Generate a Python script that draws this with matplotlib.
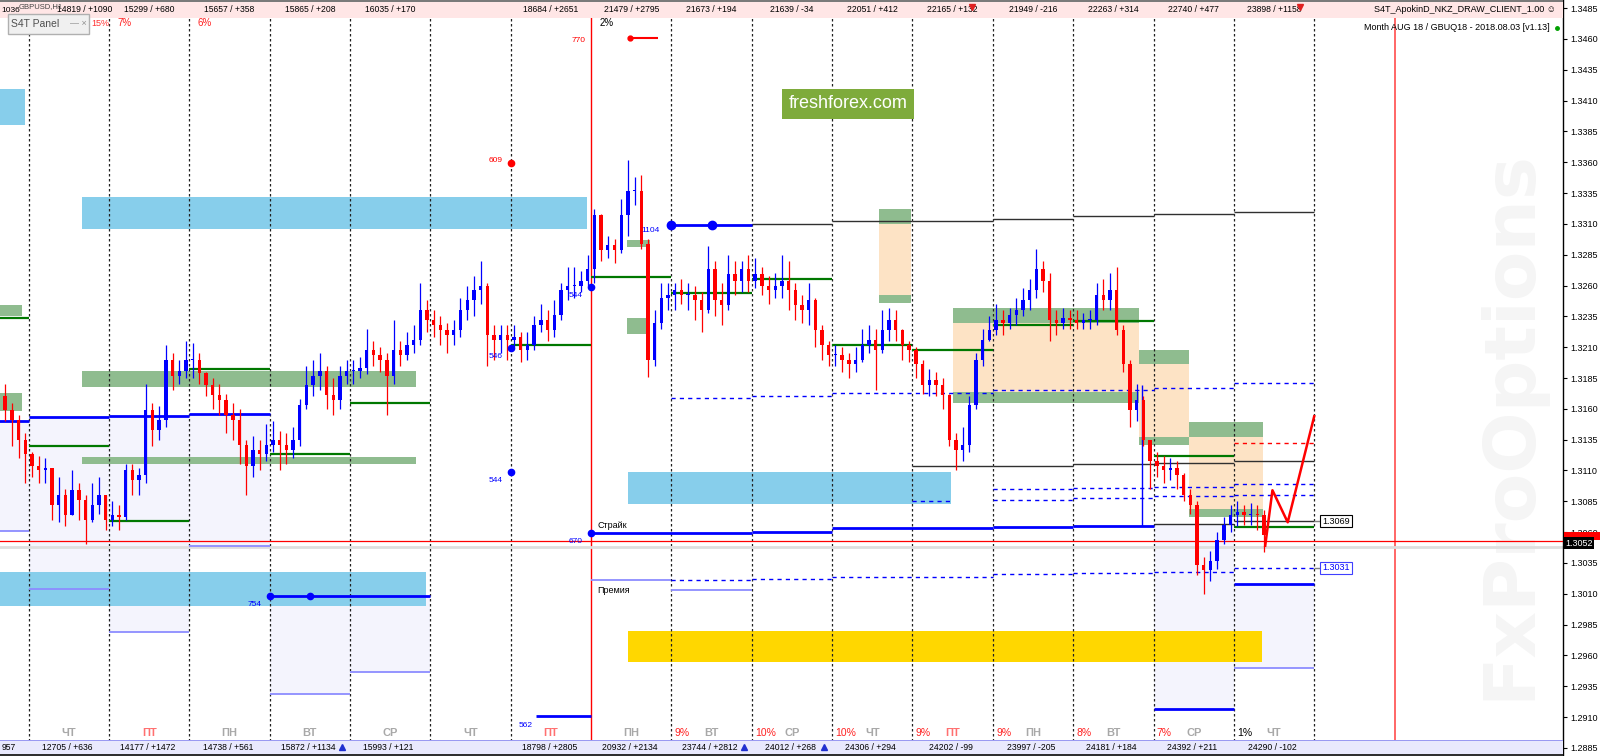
import numpy as np
import matplotlib.pyplot as plt
from matplotlib.patches import Rectangle
from matplotlib.transforms import blended_transform_factory

plt.rcParams['font.family'] = ['Liberation Sans', 'DejaVu Sans']

# GBPUSD, 2-hour candles. First candle opens 8 hours before the first day line.
first_open = 1.3170
closes = [
    1.3159, 1.3151, 1.3135, 1.3123,
    1.3114, 1.3110, 1.3112, 1.3082, 1.3090, 1.3074, 1.3094, 1.3086, 1.3070, 1.3082, 1.3090, 1.3070,
    1.3074, 1.3072, 1.3110, 1.3102, 1.3106, 1.3159, 1.3143, 1.3151, 1.3200, 1.3187, 1.3191, 1.3200,
    1.3200, 1.3189, 1.3179, 1.3171, 1.3167, 1.3155, 1.3151, 1.3131, 1.3114, 1.3127, 1.3123, 1.3131,
    1.3135, 1.3131, 1.3127, 1.3135, 1.3163, 1.3179, 1.3187, 1.3191, 1.3171, 1.3167, 1.3187, 1.3191,
    1.3191, 1.3193, 1.3208, 1.3204, 1.3200, 1.3187, 1.3208, 1.3204, 1.3212, 1.3216, 1.3240, 1.3232,
    1.3228, 1.3224, 1.3220, 1.3224, 1.3240, 1.3248, 1.3256, 1.3260, 1.3220, 1.3216, 1.3220, 1.3216,
    1.3218, 1.3208, 1.3212, 1.3228, 1.3232, 1.3224, 1.3236, 1.3256, 1.3260, 1.3260, 1.3264, 1.3273,
    1.3317, 1.3289, 1.3293, 1.3289, 1.3317, 1.3337, 1.3337, 1.3294, 1.3200, 1.3230, 1.3250, 1.3252,
    1.3256, 1.3252, 1.3252, 1.3248, 1.3240, 1.3273, 1.3248, 1.3244, 1.3269, 1.3264, 1.3273, 1.3264,
    1.3269, 1.3260, 1.3256, 1.3260, 1.3264, 1.3256, 1.3244, 1.3240, 1.3248, 1.3224, 1.3212, 1.3204,
    1.3204, 1.3200, 1.3196, 1.3200, 1.3212, 1.3216, 1.3208, 1.3224, 1.3232, 1.3224, 1.3212, 1.3208,
    1.3196, 1.3179, 1.3183, 1.3179, 1.3171, 1.3135, 1.3127, 1.3131, 1.3163, 1.3200, 1.3216, 1.3224,
    1.3232, 1.3230, 1.3236, 1.3240, 1.3248, 1.3256, 1.3273, 1.3264, 1.3232, 1.3230, 1.3234, 1.3232,
    1.3230, 1.3232, 1.3232, 1.3252, 1.3248, 1.3256, 1.3224, 1.3196, 1.3159, 1.3167, 1.3135, 1.3118,
    1.3114, 1.3110, 1.3112, 1.3106, 1.3090, 1.3082, 1.3033, 1.3029, 1.3037, 1.3054, 1.3066, 1.3074,
    1.3076, 1.3074, 1.3075, 1.3074, 1.3058,
]
highs = [
    1.3180, 1.3165, 1.3155, 1.3140,
    1.3125, 1.3122, 1.3120, 1.3112, 1.3105, 1.3095, 1.3110, 1.3100, 1.3090, 1.3100, 1.3105, 1.3090,
    1.3085, 1.3082, 1.3115, 1.3115, 1.3112, 1.3180, 1.3165, 1.3162, 1.3212, 1.3205, 1.3200, 1.3215,
    1.3213, 1.3205, 1.3190, 1.3185, 1.3180, 1.3172, 1.3165, 1.3160, 1.3135, 1.3138, 1.3135, 1.3148,
    1.3150, 1.3142, 1.3140, 1.3145, 1.3168, 1.3195, 1.3200, 1.3205, 1.3195, 1.3185, 1.3195, 1.3200,
    1.3200, 1.3202, 1.3225, 1.3215, 1.3210, 1.3205, 1.3232, 1.3215, 1.3222, 1.3228, 1.3262, 1.3248,
    1.3240, 1.3235, 1.3230, 1.3232, 1.3250, 1.3260, 1.3268, 1.3280, 1.3262, 1.3228, 1.3228, 1.3228,
    1.3228, 1.3222, 1.3222, 1.3235, 1.3245, 1.3240, 1.3248, 1.3262, 1.3275, 1.3275, 1.3272, 1.3285,
    1.3322, 1.3318, 1.3300, 1.3298, 1.3330, 1.3362, 1.3348, 1.3350, 1.3298, 1.3240, 1.3262, 1.3262,
    1.3262, 1.3265, 1.3262, 1.3260, 1.3255, 1.3292, 1.3280, 1.3262, 1.3285, 1.3280, 1.3280, 1.3285,
    1.3282, 1.3275, 1.3268, 1.3270, 1.3285, 1.3280, 1.3262, 1.3252, 1.3262, 1.3250, 1.3228, 1.3215,
    1.3212, 1.3210, 1.3205, 1.3210, 1.3225, 1.3228, 1.3225, 1.3240, 1.3242, 1.3240, 1.3225, 1.3215,
    1.3210, 1.3200, 1.3192, 1.3190, 1.3185, 1.3172, 1.3140, 1.3145, 1.3170, 1.3205, 1.3225, 1.3235,
    1.3245, 1.3240, 1.3242, 1.3250, 1.3258, 1.3265, 1.3290, 1.3280, 1.3270, 1.3240, 1.3242, 1.3240,
    1.3240, 1.3238, 1.3240, 1.3262, 1.3265, 1.3270, 1.3275, 1.3228, 1.3200, 1.3180, 1.3170, 1.3135,
    1.3125, 1.3122, 1.3120, 1.3118, 1.3108, 1.3095, 1.3085, 1.3040, 1.3045, 1.3060, 1.3072, 1.3082,
    1.3085, 1.3082, 1.3084, 1.3082, 1.3078,
]
lows = [
    1.3150, 1.3130, 1.3120, 1.3100,
    1.3105, 1.3100, 1.3100, 1.3070, 1.3068, 1.3065, 1.3080, 1.3070, 1.3050, 1.3068, 1.3075, 1.3062,
    1.3065, 1.3062, 1.3070, 1.3090, 1.3090, 1.3100, 1.3130, 1.3135, 1.3145, 1.3175, 1.3180, 1.3185,
    1.3185, 1.3180, 1.3170, 1.3160, 1.3155, 1.3140, 1.3135, 1.3115, 1.3090, 1.3105, 1.3110, 1.3118,
    1.3125, 1.3110, 1.3115, 1.3120, 1.3130, 1.3160, 1.3170, 1.3175, 1.3160, 1.3155, 1.3160, 1.3180,
    1.3180, 1.3185, 1.3188, 1.3195, 1.3190, 1.3155, 1.3180, 1.3195, 1.3200, 1.3205, 1.3212, 1.3222,
    1.3218, 1.3212, 1.3205, 1.3212, 1.3218, 1.3232, 1.3235, 1.3245, 1.3195, 1.3200, 1.3205, 1.3200,
    1.3210, 1.3198, 1.3200, 1.3208, 1.3222, 1.3215, 1.3218, 1.3232, 1.3248, 1.3250, 1.3255, 1.3260,
    1.3262, 1.3280, 1.3282, 1.3278, 1.3286, 1.3300, 1.3325, 1.3290, 1.3186, 1.3195, 1.3225, 1.3240,
    1.3240, 1.3245, 1.3240, 1.3232, 1.3222, 1.3238, 1.3235, 1.3228, 1.3240, 1.3252, 1.3255, 1.3255,
    1.3258, 1.3252, 1.3245, 1.3250, 1.3250, 1.3240, 1.3232, 1.3230, 1.3228, 1.3210, 1.3200, 1.3195,
    1.3195, 1.3190, 1.3185, 1.3190, 1.3198, 1.3205, 1.3175, 1.3205, 1.3215, 1.3215, 1.3200, 1.3198,
    1.3185, 1.3172, 1.3170, 1.3170, 1.3160, 1.3130, 1.3110, 1.3118, 1.3125, 1.3160, 1.3195, 1.3215,
    1.3220, 1.3220, 1.3225, 1.3228, 1.3235, 1.3240, 1.3250, 1.3255, 1.3215, 1.3220, 1.3225, 1.3225,
    1.3225, 1.3225, 1.3225, 1.3228, 1.3240, 1.3240, 1.3220, 1.3190, 1.3145, 1.3150, 1.3130, 1.3095,
    1.3105, 1.3100, 1.3102, 1.3095, 1.3085, 1.3075, 1.3025, 1.3010, 1.3020, 1.3030, 1.3050, 1.3060,
    1.3065, 1.3066, 1.3066, 1.3062, 1.3044,
]

# forecast path (day, price)
forecast_days = [15.39, 15.48, 15.67, 16.0]
forecast_prices = [1.3049, 1.3094, 1.3068, 1.3154]

current_price = 1.3052

weekdays = ['ЧТ', 'ПТ', 'ПН', 'ВТ', 'СР', 'ЧТ', 'ПТ', 'ПН', 'ВТ', 'СР', 'ЧТ', 'ПТ', 'ПН', 'ВТ', 'СР', 'ЧТ']
top_values = ['14819 / +1090', '15299 / +680', '15657 / +358', '15865 / +208', '16035 / +170', '',
              '18684 / +2651', '21479 / +2795', '21673 / +194', '21639 / -34', '22051 / +412',
              '22165 / +132', '21949 / -216', '22263 / +314', '22740 / +477', '23898 / +1158']
bottom_values = ['12705 / +636', '14177 / +1472', '14738 / +561', '15872 / +1134', '15993 / +121', '',
                 '18798 / +2805', '20932 / +2134', '23744 / +2812', '24012 / +268', '24306 / +294',
                 '24202 / -99', '23997 / -205', '24181 / +184', '24392 / +211', '24290 / -102']
bottom_pct_days = [8, 9, 10, 11, 12, 13, 14, 15]
bottom_pct = ['9%', '10%', '10%', '9%', '9%', '8%', '7%', '1%']
top_pct_days = [1, 2, 7]
top_pct = ['7%', '6%', '2%']

# zones: (day from, day to, price low, price high)
blue_zones = [(-0.4, -0.04, 1.3390, 1.3419), (0.67, 6.95, 1.3306, 1.3332),
              (-0.4, 4.95, 1.3000, 1.3028), (7.46, 11.48, 1.3083, 1.3109)]
green_zones = [(-0.4, -0.08, 1.3235, 1.3244), (-0.4, -0.08, 1.3158, 1.3173),
               (0.67, 4.82, 1.3178, 1.3191), (0.67, 4.82, 1.3115, 1.3121),
               (7.45, 7.73, 1.3291, 1.3297), (7.45, 7.73, 1.3221, 1.3234),
               (10.58, 10.98, 1.3310, 1.3322), (10.58, 10.98, 1.3246, 1.3252),
               (11.5, 13.82, 1.3230, 1.3242), (11.5, 13.82, 1.3165, 1.3174),
               (13.82, 14.44, 1.3196, 1.3208), (13.82, 14.44, 1.3131, 1.3137),
               (14.44, 15.36, 1.3137, 1.3149), (14.44, 15.36, 1.3072, 1.3079)]
orange_zones = [(10.58, 10.98, 1.3252, 1.3310), (11.5, 13.82, 1.3174, 1.3230),
                (13.82, 14.44, 1.3137, 1.3196), (14.44, 15.36, 1.3079, 1.3137)]
yellow_zone = (7.46, 15.35, 1.2955, 1.2980)
lavender_zones = [(-0.4, 0, 1.3061, 1.3150), (0, 1, 1.3014, 1.3153), (1, 2, 1.2979, 1.3154),
                  (2, 3, 1.3049, 1.3156), (3, 4, 1.2929, 1.3008), (4, 5, 1.2947, 1.3008),
                  (14, 15, 1.2917, 1.3066), (15, 16, 1.2950, 1.3018)]

# levels: (day from, day to, price)
green_lines = [(-0.4, 0, 1.3234), (0, 1, 1.3130), (1, 2, 1.3069), (2, 3, 1.3192), (3, 4, 1.3123),
               (4, 5, 1.3165), (6, 7, 1.3212), (7, 8, 1.3267), (8, 9, 1.3254), (9, 10, 1.3265),
               (10, 11, 1.3212), (11, 12, 1.3208), (12, 13, 1.3228), (13, 14, 1.3231),
               (14, 15, 1.3122), (15, 16, 1.3064)]
strike_lines = [(-0.4, 0, 1.3150), (0, 1, 1.3153), (1, 2, 1.3154), (2, 3, 1.3156),
                (7, 9, 1.3059), (9, 10, 1.3060), (10, 12, 1.3063), (12, 13, 1.3064), (13, 14, 1.3065),
                (3, 5, 1.3008), (6.31, 7, 1.2911), (14, 15, 1.2917), (15, 16, 1.3018), (8, 9, 1.3309)]
premium_lines = [(-0.4, 0, 1.3061), (0, 1, 1.3014), (1, 2, 1.2979), (2, 3, 1.3049), (3, 4, 1.2929),
                 (4, 5, 1.2947), (7, 8, 1.3021), (8, 9, 1.3013), (15, 16, 1.2950)]
dashed_lines = [(8, 9, 1.3169), (9, 10, 1.3170), (10, 12, 1.3173), (12, 14, 1.3175), (14, 15, 1.3177),
                (15, 16, 1.3181), (11, 11.5, 1.3085), (12, 13, 1.3095), (12, 13, 1.3086),
                (13, 14, 1.3096), (13, 14, 1.3088), (14, 15, 1.3097), (14, 15, 1.3089),
                (15, 16, 1.3099), (15, 16, 1.3090), (8, 9, 1.3021), (9, 10, 1.3022), (10, 12, 1.3024),
                (12, 13, 1.3026), (13, 14, 1.3027), (14, 15, 1.3028), (15, 16, 1.3031)]
black_lines = [(9, 10, 1.3310), (10, 11, 1.3312), (11, 12, 1.3312), (12, 13, 1.3314), (13, 14, 1.3316),
               (14, 15, 1.3318), (15, 16, 1.3320), (11, 12, 1.3114), (12, 13, 1.3114),
               (13, 14, 1.3115), (14, 15, 1.3116), (15, 16, 1.3118), (14, 15, 1.3067), (15, 16, 1.3069)]
red_dashed = (15, 16, 1.3132)

# marked points: (day, price, label, colour)
marks = [(6.0, 1.3359, '609', 'red'), (6.0, 1.3209, '546', 'blue'), (6.0, 1.3109, '544', 'blue'),
         (7.0, 1.3259, '544', 'blue'), (7.0, 1.3059, '670', 'blue'), (3.0, 1.3008, '754', 'blue')]
extra_dots = [(3.5, 1.3008), (8.0, 1.3309), (8.5, 1.3309)]

# ---- figure ----
W, H = 1600, 756
fig = plt.figure(figsize=(W / 100, H / 100), dpi=100)
ax = fig.add_axes([0, 0, 1563 / W, 1])
ax.set_xlim(-0.356, 19.096)
ax.set_ylim(1.28785, 1.34915)
for s in ['left', 'top', 'bottom']:
    ax.spines[s].set_visible(False)
ax.spines['right'].set_linewidth(1)
ax.set_xticks([])
ax.yaxis.tick_right()
yt = np.arange(1.2885, 1.34851, 0.0025)
ax.set_yticks(yt)
ax.set_yticklabels([f'{v:.4f}' for v in yt])
ax.tick_params(axis='y', labelsize=6.5, length=3, width=0.8, pad=2)

tx = blended_transform_factory(ax.transData, ax.transAxes)
ty = blended_transform_factory(ax.transAxes, ax.transData)


def fy(ypix):
    return 1 - ypix / H


def box(z, color, zo):
    ax.add_patch(Rectangle((z[0], z[2]), z[1] - z[0], z[3] - z[2], facecolor=color,
                           edgecolor='none', zorder=zo))


for z in lavender_zones:
    box(z, '#f4f4fd', 0.5)
for z in blue_zones:
    box(z, '#87ceeb', 1)
for z in orange_zones:
    box(z, '#fde3c5', 1)
for z in green_zones:
    box(z, '#8fbc8f', 1.1)
box(yellow_zone, '#ffd700', 1)

# watermark and logo
ax.text(1510 / 1563, fy(425), 'FxProOptions', rotation=90, ha='center', va='center',
        transform=ax.transAxes, fontsize=52, fontweight='bold', color='#f5f5f5', zorder=0.2,
        family='DejaVu Sans')
ax.text(848 / 1563, fy(104), 'freshforex.com', ha='center', va='center', transform=ax.transAxes,
        fontsize=13, color='white', zorder=6,
        bbox=dict(boxstyle='square,pad=0.35', facecolor='#7eab3b', edgecolor='none'))

# day separators
for d in range(0, 17):
    if d == 7:
        ax.axvline(d, color='#ff0000', lw=1, zorder=2)
    else:
        ax.axvline(d, color='#202020', lw=0.9, ls=(0, (2, 2)), zorder=2)
ax.axvline(17, color='#ff5a5a', lw=1.3, zorder=2)

for a, b, p in premium_lines:
    ax.hlines(p, a, b, color='#8c8cff', lw=1.3, zorder=2.5)
for a, b, p in dashed_lines:
    ax.hlines(p, a, b, color='#0000ff', lw=1, ls=(0, (3, 3)), zorder=2.5)
for a, b, p in black_lines:
    ax.hlines(p, a, b, color='#303030', lw=1, zorder=2.5)
ax.hlines(red_dashed[2], red_dashed[0], red_dashed[1], color='#ff0000', lw=1, ls=(0, (3, 3)), zorder=2.5)
for a, b, p in green_lines:
    ax.hlines(p, a, b, color='#007800', lw=1.6, zorder=2.6)
for a, b, p in strike_lines:
    ax.hlines(p, a, b, color='#0000ff', lw=2, zorder=2.6)
ax.vlines(13.86, 1.3065, 1.3179, color='#0000ff', lw=1, zorder=2.6)

# current price line
ax.axhline(current_price - 0.0004, color='#dedede', lw=2, zorder=2.4)
ax.axhline(current_price + 0.0001, color='#ff0000', lw=0.9, zorder=2.7)

# candles
n = len(closes)
x = (np.arange(n) * 2 - 8 + 1) / 24
opens = np.array([first_open] + closes[:-1])
c = np.array(closes)
hi = np.maximum(np.array(highs), np.maximum(opens, c))
lo = np.minimum(np.array(lows), np.minimum(opens, c))
up = c >= opens
cols = np.where(up, '#0000ff', '#ff0000')
ax.vlines(x, lo, hi, colors=cols, lw=0.9, zorder=4)
body = np.where(np.abs(c - opens) < 0.00008, 0.00008, c - opens)
ax.bar(x, body, bottom=opens, width=0.042, color=cols, zorder=4.1, linewidth=0)

ax.plot(forecast_days, forecast_prices, color='#ff0000', lw=1.8, zorder=4.5)

# marked points
for d, p, lab, col in marks:
    ax.plot(d, p, 'o', color=col, ms=4.5, zorder=5)
    dy = 2 if lab == '609' else -6
    ax.annotate(lab, (d, p), xytext=(-6, dy), textcoords='offset points', ha='right', va='center',
                fontsize=6, color=col, zorder=6)
for d, p in extra_dots:
    ax.plot(d, p, 'o', color='#0000ff', ms=4.5 if d == 3.5 else 6, zorder=5)
ax.plot(7.48, 1.3461, 'o', color='red', ms=3.5, zorder=5)
ax.hlines(1.3461, 7.48, 7.83, color='red', lw=1.5, zorder=5)
ax.text(6.93, 1.3459, '770', color='red', fontsize=6, ha='right', va='center', zorder=6)
ax.text(6.27, 1.2903, '562', color='blue', fontsize=6, ha='right', va='center', zorder=6)
ax.text(7.62, 1.3305, '1104', color='blue', fontsize=6, ha='left', va='center', zorder=6)
ax.text(7.08, 1.3065, 'Страйк', color='black', fontsize=6.5, ha='left', va='center', zorder=6)
ax.text(7.08, 1.3013, 'Премия', color='black', fontsize=6.5, ha='left', va='center', zorder=6)

# right-hand level labels
ax.hlines([1.3069, 1.3031], 16, 16.1, color='#808080', lw=1, zorder=3)
ax.text(16.1, 1.3069, '1.3069', fontsize=6.5, ha='left', va='center', zorder=6,
        bbox=dict(boxstyle='square,pad=0.2', facecolor='white', edgecolor='black', lw=0.8))
ax.text(16.1, 1.3031, '1.3031', fontsize=6.5, ha='left', va='center', color='#0000ff', zorder=6,
        bbox=dict(boxstyle='square,pad=0.2', facecolor='white', edgecolor='#4040ff', lw=0.8))
ax.add_patch(Rectangle((1.0008, current_price + 0.0002), 0.023, 0.0006, transform=ty,
                       facecolor='#ff0000', edgecolor='none', clip_on=False, zorder=6))
ax.text(1.0015, current_price - 0.0001, '1.3052', transform=ty, fontsize=6.5, ha='left', va='center',
        color='white', bbox=dict(boxstyle='square,pad=0.15', facecolor='black', edgecolor='none'),
        clip_on=False, zorder=7)

# top band
ax.add_patch(Rectangle((0, fy(18)), 1, 16 / H, transform=ax.transAxes, facecolor='#ffe6e6',
                       edgecolor='none', zorder=3))
ax.axhline(1.3485 + 10 / 12333, color='#ffb4b4', lw=1.2, zorder=3.1)
ax.add_patch(Rectangle((0, fy(2)), 1, 2 / H, transform=ax.transAxes, facecolor='#7a7a7a',
                       edgecolor='none', zorder=3.1))
for d in range(16):
    xo = 0.7 if d == 0 else 0.5
    ax.text(d + xo, fy(10), top_values[d], transform=tx, ha='center', va='center', fontsize=6.2,
            zorder=7)
for d, t in zip(top_pct_days, top_pct):
    ax.text(d + 0.1, fy(23), t, transform=tx, ha='left', va='center', fontsize=7,
            color='black' if t == '2%' else '#ff2020', zorder=7)
ax.text(0.001, fy(10), '1036', transform=ax.transAxes, ha='left', va='center', fontsize=6, zorder=7)
ax.text(19 / 1563, fy(7), 'GBPUSD,H1', transform=ax.transAxes, ha='left', va='center', fontsize=5.5,
        color='#404040', zorder=7)
ax.plot([11.74, 15.82], [1.34855, 1.34855], 'v', color='#e02020', ms=5, zorder=7)

# S4T panel
ax.add_patch(Rectangle((8 / 1563, fy(34)), 81 / 1563, 20 / H, transform=ax.transAxes,
                       facecolor='#f0f0f0', edgecolor='#b0b0b0', lw=1, zorder=8))
ax.text(11 / 1563, fy(24), 'S4T Panel', transform=ax.transAxes, ha='left', va='center', fontsize=7.5,
        color='#505050', zorder=9)
ax.text(87 / 1563, fy(24), '— ×', transform=ax.transAxes, ha='right', va='center', fontsize=6.5,
        color='#909090', zorder=9)
ax.text(91 / 1563, fy(24), '15%', transform=ax.transAxes, ha='left', va='center', fontsize=6.5,
        color='#ff3030', zorder=9)

# top-right captions
ax.text(1556 / 1563, fy(9), 'S4T_ApokinD_NKZ_DRAW_CLIENT_1.00 ☺', transform=ax.transAxes,
        ha='right', va='center', fontsize=6.5, zorder=9)
ax.text(1550 / 1563, fy(28), 'Month AUG 18 / GBUQ18 - 2018.08.03 [v1.13]', transform=ax.transAxes,
        ha='right', va='center', fontsize=6.5, zorder=9)
ax.plot(1557 / 1563, fy(28), 'o', color='#00a000', ms=2.5, transform=ax.transAxes, zorder=9)

# bottom band
ax.add_patch(Rectangle((0, fy(754)), 1, 14 / H, transform=ax.transAxes, facecolor='#e9e9fd',
                       edgecolor='none', zorder=3))
ax.add_patch(Rectangle((0, fy(741)), 1, 1.2 / H, transform=ax.transAxes, facecolor='#9a9af2',
                       edgecolor='none', zorder=3.1))
ax.add_patch(Rectangle((0, 0), 1, 2 / H, transform=ax.transAxes, facecolor='#303030',
                       edgecolor='none', zorder=3.1))
for d in range(16):
    ax.text(d + 0.48, fy(747), bottom_values[d], transform=tx, ha='center', va='center',
            fontsize=6.2, zorder=7)
    ax.text(d + 0.5, fy(733), weekdays[d], transform=tx, ha='center', va='center', fontsize=8,
            fontweight='bold', color='#ff7070' if weekdays[d] == 'ПТ' else '#a8a8a8', zorder=7)
for d, t in zip(bottom_pct_days, bottom_pct):
    ax.text(d + 0.04, fy(733), t, transform=tx, ha='left', va='center', fontsize=7.5,
            color='black' if t == '1%' else '#ff2020', zorder=7)
ax.text(0.001, fy(747), '957', transform=ax.transAxes, ha='left', va='center', fontsize=6.2, zorder=7)
ax.plot([3.9, 8.9, 9.9], [1.2886, 1.2886, 1.2886], '^', color='#2030d0', ms=4.5, zorder=7)

fig.savefig('out.png', dpi=100)
